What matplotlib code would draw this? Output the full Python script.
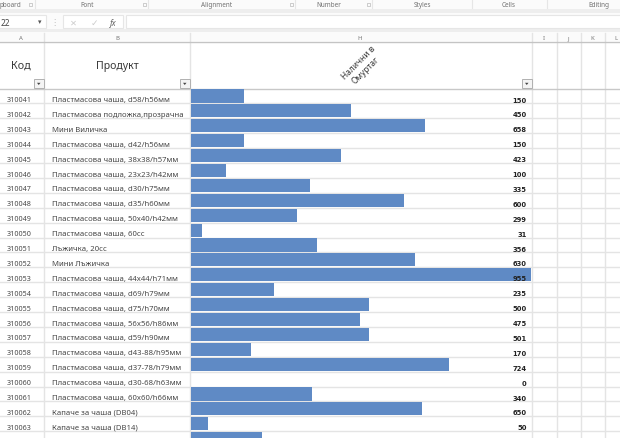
import matplotlib
matplotlib.use("Agg")
import matplotlib.pyplot as plt
from matplotlib.patches import Rectangle, Polygon
from matplotlib.transforms import blended_transform_factory

plt.rcParams['font.family'] = ['Noto Sans', 'DejaVu Sans']

codes = ["310041","310042","310043","310044","310045","310046","310047","310048",
         "310049","310050","310051","310052","310053","310054","310055","310056",
         "310057","310058","310059","310060","310061","310062","310063"]
products = ["Пластмасова чаша, d58/h56мм","Пластмасова подложка,прозрачна","Мини Виличка",
            "Пластмасова чаша, d42/h56мм","Пластмасова чаша, 38x38/h57мм","Пластмасова чаша, 23x23/h42мм",
            "Пластмасова чаша, d30/h75мм","Пластмасова чаша, d35/h60мм","Пластмасова чаша, 50x40/h42мм",
            "Пластмасова чаша, 60сс","Лъжичка, 20сс","Мини Лъжичка",
            "Пластмасова чаша, 44x44/h71мм","Пластмасова чаша, d69/h79мм","Пластмасова чаша, d75/h70мм",
            "Пластмасова чаша, 56x56/h86мм","Пластмасова чаша, d59/h90мм","Пластмасова чаша, d43-88/h95мм",
            "Пластмасова чаша, d37-78/h79мм","Пластмасова чаша, d30-68/h63мм","Пластмасова чаша, 60x60/h66мм",
            "Капаче за чаша (DB04)","Капаче за чаша (DB14)"]
values = [150,450,658,150,423,100,335,600,299,31,356,630,955,235,500,475,501,170,724,0,340,650,50]
partial_row_value = [200]
ribbon_groups = ["pboard","Font","Alignment","Number","Styles","Cells","Editing"]
columns = ["A","B","H","I","J","K","L"]

GRID = "#e4e4e4"; TXT = "#474747"; BAR = "#5f8ac5"

fig = plt.figure(figsize=(6.2, 4.39), dpi=100, facecolor="white")
ui = fig.add_axes([0, 0, 1, 1], zorder=1)
ui.set_xlim(0, 620); ui.set_ylim(439, 0); ui.axis("off")

# ribbon + formula bar
ui.add_patch(Rectangle((0, 0), 620, 42, fc="#fbfbfb", ec="none"))
ui.add_patch(Rectangle((0, 10), 620, 3.5, fc="#eeeeee", ec="none"))
ui.add_patch(Rectangle((0, 29.5), 620, 3, fc="#eeeeee", ec="none"))
for x in [35, 148, 295, 372, 472, 547]:
    ui.plot([x, x], [0, 9], color="#e6e6e6", lw=0.8)
for name, x in zip(ribbon_groups, [0, 87, 217, 329, 422, 509, 599]):
    ui.text(x, 5.5, name, ha="left" if x == 0 else "center", va="center", fontsize=4.6, color="#707070")
for x in [30, 144, 291, 368]:
    ui.add_patch(Rectangle((x - 1.5, 3.8), 3, 3, fc="none", ec="#aaaaaa", lw=0.4))
ui.add_patch(Rectangle((-2, 16), 48, 13, fc="white", ec="#e6e6e6", lw=0.8))
ui.text(1, 23, "22", fontsize=6, va="center", color="#444444")
ui.text(40, 22.5, "▾", fontsize=5, ha="center", va="center", color="#555555")
ui.add_patch(Rectangle((63, 16), 60, 13, fc="white", ec="#e6e6e6", lw=0.8))
ui.add_patch(Rectangle((126, 16), 500, 13, fc="white", ec="#e6e6e6", lw=0.8))
ui.text(73, 23, "✕", fontsize=6, ha="center", va="center", color="#cccccc")
ui.text(94, 23, "✓", fontsize=6.5, ha="center", va="center", color="#cccccc")
ui.text(113, 23, "fx", fontsize=6, style="italic", ha="center", va="center", color="#666666")
ui.text(54, 22.5, "⋮", fontsize=6, ha="center", va="center", color="#bbbbbb")

# sheet column header strip
for name, x in zip(columns, [21, 117, 360, 544, 568, 592, 616]):
    ui.text(x, 38.5, name, fontsize=4.3, ha="center", va="center", color="#777777")
ui.plot([0, 620], [42.5, 42.5], color="#c4c4c4", lw=1)
ui.plot([0, 620], [89.5, 89.5], color="#c8c8c8", lw=1)

# grid verticals
for x in [44, 190, 532, 556.5, 580.5, 604.5]:
    ui.plot([x, x], [34, 439], color=GRID, lw=1, zorder=1)

# header cells
ui.text(21, 66.5, "Код", fontsize=7.8, ha="center", va="center", color="#3a3a3a")
ui.text(117, 66.5, "Продукт", fontsize=7.6, ha="center", va="center", color="#3a3a3a")
ui.text(362, 67, "Налични в\nОмуртаг", fontsize=6, rotation=45, ha="center", va="center",
        ma="center", color="#3a3a3a", rotation_mode="anchor", linespacing=1.25)
for x in [34, 180, 522]:
    ui.add_patch(Rectangle((x, 80), 9.5, 9, fc="#f4f4f4", ec="#b0b0b0", lw=0.7, zorder=4))
    ui.add_patch(Polygon([[x + 3, 83.8], [x + 6.5, 83.8], [x + 4.75, 86]], fc="#444444", ec="none", zorder=5))

# bars on real data axes
ROW = 14.9; C0 = 97.0
left, right, top, bottom = 190.5, 531.0, 90.0, 439.0
ax = fig.add_axes([left / 620, 1 - bottom / 439, (right - left) / 620, (bottom - top) / 439], zorder=2)
ax.patch.set_alpha(0)
ax.set_xlim(0, 955)
ax.set_ylim((bottom - C0) / ROW, (top - C0) / ROW)
ax.axis("off")
all_values = values + partial_row_value
ax.barh(range(len(all_values)), all_values, height=0.88, color=BAR, edgecolor="none", zorder=3)

# row lines and labels
tr = blended_transform_factory(ui.transData, ax.transData)
for i, (c, p, v) in enumerate(zip(codes, products, values)):
    ax.plot([0, 1], [i + 0.5, i + 0.5], transform=blended_transform_factory(fig.transFigure, ax.transData),
            color=GRID, lw=1, zorder=1, clip_on=False)
    ax.text(19.5, i + 0.24, c, transform=tr, fontsize=5.2, ha="center", va="center", color=TXT, clip_on=False)
    ax.text(52, i + 0.24, p, transform=tr, fontsize=5.55, ha="left", va="center", color=TXT, clip_on=False)
    ax.text(526.5, i + 0.24, str(v), transform=tr, fontsize=4.9, family="DejaVu Sans", weight="bold",
            ha="right", va="center", color="#222222", clip_on=False, zorder=6)

fig.savefig("out.png", dpi=100, facecolor="white")
